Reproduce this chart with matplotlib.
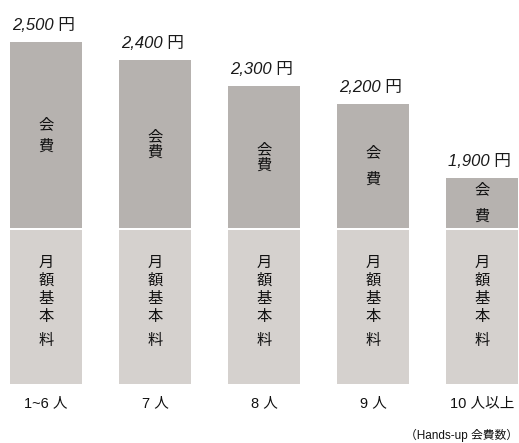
import matplotlib
matplotlib.use("Agg")
import matplotlib.pyplot as plt

# --- data (bar heights, in picture units) ---
groups = ["1~6 人", "7 人", "8 人", "9 人", "10 人以上"]
price_labels = ["2,500 円", "2,400 円", "2,300 円", "2,200 円", "1,900 円"]
base_heights = [154, 154, 154, 154, 154]      # 月額基本料
fee_heights = [186, 168, 142, 124, 50]        # 会費
fee_linespacing = [1.35, 0.9, 0.9, 1.7, 1.75]

BASE_COLOR = "#d5d1ce"
FEE_COLOR = "#b6b2af"
GAP = 2
CJK = ["Noto Sans CJK JP"]

plt.rcParams["font.family"] = ["Liberation Sans", "Noto Sans CJK JP", "DejaVu Sans"]

fig = plt.figure(figsize=(5.19, 4.43), dpi=100)
ax = fig.add_axes([0, 0, 1, 1])
ax.set_xlim(-0.422, 4.339)
ax.set_ylim(-59, 384)
ax.axis("off")

x = list(range(len(groups)))
width = 0.66

ax.bar(x, base_heights, width=width, color=BASE_COLOR, linewidth=0)
fee_bottoms = [b + GAP for b in base_heights]
ax.bar(x, fee_heights, width=width, bottom=fee_bottoms, color=FEE_COLOR, linewidth=0)

for i in x:
    top = fee_bottoms[i] + fee_heights[i]
    # price above the bar
    ax.text(i - width / 2 + 0.02, top + 17, price_labels[i], ha="left", va="center",
            fontsize=12, style="italic", color="#1a1a1a")
    # vertical 会費 in the upper segment
    fee_mid = fee_bottoms[i] + fee_heights[i] / 2
    ax.text(i, fee_mid, "会\n費", ha="center", va="center", fontsize=11,
            linespacing=fee_linespacing[i], color="#111111", family=CJK)
    # vertical 月額基本 + 料 in the lower segment
    for k, ch in enumerate("月額基本"):
        ax.text(i, 122 - k * 18, ch, ha="center", va="center", fontsize=11,
                color="#111111", family=CJK)
    ax.text(i, 43, "料", ha="center", va="center", fontsize=11,
            color="#111111", family=CJK)
    # group label
    ax.text(i, -19, groups[i], ha="center", va="center", fontsize=10.5, color="#111111")

ax.text(4.33, -51, "（Hands-up 会費数）", ha="right", va="center",
        fontsize=8.5, color="#111111")

fig.savefig("out.png", dpi=100)
